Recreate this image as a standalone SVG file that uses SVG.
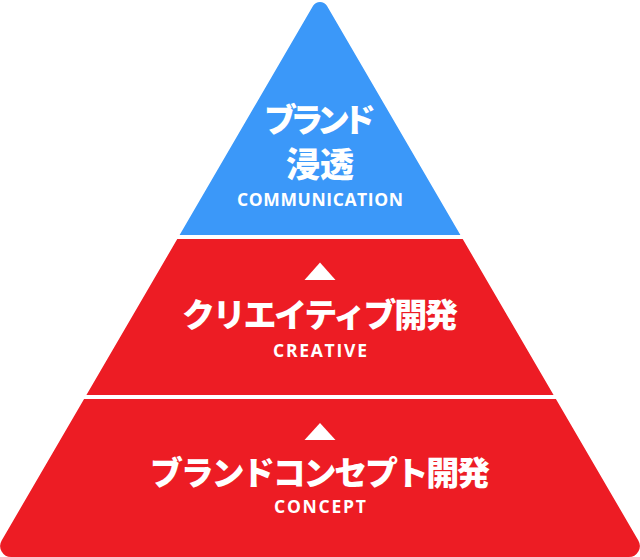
<svg xmlns="http://www.w3.org/2000/svg" width="640" height="557" viewBox="0 0 640 557">
  <defs>
    <clipPath id="pyr">
      <path d="M313.09,5.86 A8,8 0 0 1 326.91,5.86 L638.32,540.46 A11,11 0 0 1 628.81,557 L11.19,557 A11,11 0 0 1 1.68,540.46 Z"/>
    </clipPath>
    <style>
      .jp { font-family: "Noto Sans CJK JP", "Noto Sans", sans-serif; font-weight: 900; font-size: 33px; fill: #ffffff; text-anchor: middle; }
      .en { font-family: "Open Sans", "Liberation Sans", sans-serif; font-weight: 700; font-size: 17.5px; fill: #ffffff; text-anchor: middle; }
      .mark { fill: #ffffff; }
    </style>
  </defs>
  <rect width="640" height="557" fill="#ffffff"/>
  <g id="tier-communication">
    <rect x="0" y="0" width="640" height="235" fill="#3B98F9" clip-path="url(#pyr)"/>
    <text class="jp" x="320" y="131.5" textLength="112" lengthAdjust="spacing">ブランド</text>
    <text class="jp" x="320" y="176.5" style="font-size:34px">浸透</text>
    <text class="en" x="320" y="205.5" textLength="166" lengthAdjust="spacing">COMMUNICATION</text>
  </g>
  <g id="tier-creative">
    <rect x="0" y="239" width="640" height="156" fill="#ED1C24" clip-path="url(#pyr)"/>
    <text class="jp" x="320" y="327" textLength="276" lengthAdjust="spacing">クリエイティブ開発</text>
    <text class="en" x="320" y="356.5" textLength="94" lengthAdjust="spacing">CREATIVE</text>
  </g>
  <g id="tier-concept">
    <rect x="0" y="399" width="640" height="158" fill="#ED1C24" clip-path="url(#pyr)"/>
    <text class="jp" x="320" y="484.5" textLength="340" lengthAdjust="spacing">ブランドコンセプト開発</text>
    <text class="en" x="320" y="513" textLength="92" lengthAdjust="spacing">CONCEPT</text>
  </g>
  <g id="connectors">
    <polygon class="mark" points="320,262.5 335.5,280 304.5,280"/>
    <polygon class="mark" points="320,423 335.5,440 304.5,440"/>
  </g>
</svg>
